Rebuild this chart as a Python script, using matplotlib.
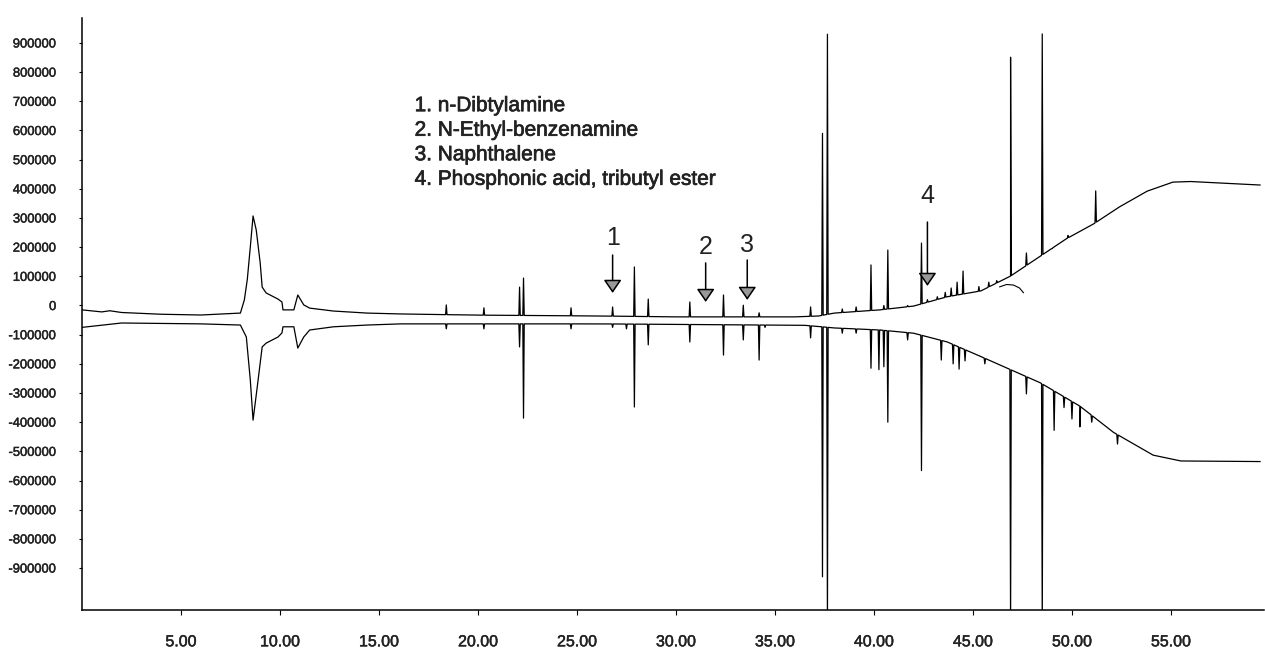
import numpy as np
import matplotlib
matplotlib.use("Agg")
import matplotlib.pyplot as plt
import matplotlib.patheffects as pe

plt.rcParams['font.family'] = ['Liberation Sans', 'DejaVu Sans']

# ---------------- data ----------------
# upper trace: baseline / broad-peak knots (retention time, signal)
upper_knot_t = [0.0, 1.0, 1.4, 2.0, 4.0, 6.0, 8.0, 8.2, 8.35, 8.5, 8.64, 8.8, 9.0, 9.1,
                9.3, 9.9, 10.1, 10.15, 10.7, 10.9, 11.2, 11.5, 12.7, 14.4, 16.1, 20.0,
                26.2, 30.0, 36.0, 37.2, 38.0, 40.3, 42.0, 43.7, 45.4, 46.9, 48.4, 49.7,
                51.1, 52.4, 53.8, 55.1, 56.0, 59.5]
upper_knot_v = [-15000, -22000, -18000, -24000, -30000, -32600, -26000, 19000, 90000,
                200000, 307000, 259000, 146000, 63000, 43000, 22000, 12000, -15000,
                -15000, 36000, 2000, -9000, -19000, -26000, -29000, -33000, -36000,
                -39000, -39000, -36000, -26000, -15000, -2000, 30000, 50000, 101000,
                169000, 228000, 280000, 338000, 392000, 423000, 425000, 413000]

# upper trace: sharp peaks (retention time, apex signal)
upper_peak_t = [18.4, 20.3, 22.1, 22.3, 24.7, 26.8, 27.9, 28.6, 30.7, 32.4, 33.4, 34.2,
                36.8, 37.4, 37.65, 38.4, 39.1, 39.85, 40.5, 40.7, 41.7, 42.4, 42.7, 43.2,
                43.6, 43.9, 44.2, 44.5, 45.3, 45.8, 46.2, 46.9, 47.7, 48.5, 49.0, 49.8,
                51.2, 52.0]
upper_peak_v = [2000, -8000, 63000, 94000, -8000, -5000, 132000, 22000, 12000, 36000,
                1000, -25000, -5000, 590000, 930000, -12000, -5000, 139000, 0, 190000,
                0, 214000, 20000, 30000, 45000, 60000, 80000, 118000, 65000, 80000,
                85000, 851000, 180000, 931000, 195000, 240000, 393000, 320000]

# small hand-drawn curl under the upper trace
curl_t = [46.35, 46.7, 47.05, 47.35, 47.55]
curl_v = [64000, 72000, 70000, 60000, 44000]

# lower (mirrored) trace: baseline / broad-peak knots
lower_knot_t = [0.0, 2.0, 6.0, 8.0, 8.3, 8.5, 8.64, 8.85, 9.1, 9.3, 9.9, 10.1, 10.15,
                10.7, 10.9, 11.2, 11.5, 12.7, 14.4, 16.1, 26.2, 36.5, 37.2, 38.0, 40.3,
                42.0, 43.7, 45.4, 48.4, 50.4, 52.1, 54.1, 55.5, 59.5]
lower_knot_v = [-75000, -60000, -63000, -67000, -108000, -255000, -393000, -280000,
                -142000, -129000, -108000, -94000, -73000, -73000, -146000, -108000,
                -84000, -73000, -67000, -63000, -63000, -68000, -72000, -77000, -84000,
                -95000, -125000, -175000, -265000, -345000, -435000, -513000, -533000,
                -535000]

# lower trace: sharp peaks (retention time, apex signal)
lower_peak_t = [18.4, 20.3, 22.1, 22.3, 24.7, 26.8, 27.5, 27.9, 28.6, 30.7, 32.4, 33.4,
                34.2, 34.5, 36.8, 37.4, 37.65, 38.4, 39.1, 39.85, 40.25, 40.5, 40.7, 41.7,
                42.4, 43.4, 44.0, 44.3, 44.6, 45.6, 46.9, 47.7, 48.5, 49.1, 49.6, 50.0,
                50.4, 51.0, 52.3]
lower_peak_v = [-80000, -80000, -142000, -386000, -80000, -75000, -80000, -348000,
                -135000, -125000, -170000, -118000, -187000, -75000, -111000, -930000,
                -1100000, -95000, -95000, -215000, -220000, -210000, -400000, -118000,
                -566000, -187000, -200000, -218000, -190000, -200000, -1100000, -303000,
                -1100000, -428000, -350000, -389000, -416000, -400000, -475000]

# compound annotations
legend_lines = ["1. n-Dibtylamine", "2. N-Ethyl-benzenamine", "3. Naphthalene",
                "4. Phosphonic acid, tributyl ester"]
marker_labels = ["1", "2", "3", "4"]
marker_t = [26.8, 31.5, 33.6, 42.7]
marker_tail_v = [173000, 146000, 156000, 286000]
marker_tip_v = [43000, 12000, 19000, 67000]
marker_text_v = [231000, 200000, 207000, 375000]

x_ticks = [5, 10, 15, 20, 25, 30, 35, 40, 45, 50, 55]
x_tick_labels = ["5.00", "10.00", "15.00", "20.00", "25.00", "30.00", "35.00",
                 "40.00", "45.00", "50.00", "55.00"]
y_ticks = [900000, 800000, 700000, 600000, 500000, 400000, 300000, 200000, 100000, 0,
           -100000, -200000, -300000, -400000, -500000, -600000, -700000, -800000,
           -900000]
y_tick_labels = ["900000", "800000", "700000", "600000", "500000", "400000", "300000",
                 "200000", "100000", "0", "-100000", "-200000", "-300000", "-400000",
                 "-500000", "-600000", "-700000", "-800000", "-900000"]


def build_trace(knot_t, knot_v, peak_t, peak_v, half_width=0.035):
    kt = np.asarray(knot_t, float)
    kv = np.asarray(knot_v, float)
    pts_t = list(kt)
    pts_v = list(kv)
    for t, v in zip(peak_t, peak_v):
        for dt in (-half_width, half_width):
            pts_t.append(t + dt)
            pts_v.append(np.interp(t + dt, kt, kv))
        pts_t.append(t)
        pts_v.append(v)
    order = np.argsort(pts_t, kind="stable")
    return np.asarray(pts_t)[order], np.asarray(pts_v)[order]


fig = plt.figure(figsize=(12.65, 6.57), dpi=100)
ax = fig.add_axes([82 / 1265, 47 / 657, 1182 / 1265, 592 / 657])

ut, uv = build_trace(upper_knot_t, upper_knot_v, upper_peak_t, upper_peak_v)
lt, lv = build_trace(lower_knot_t, lower_knot_v, lower_peak_t, lower_peak_v)
ax.plot(ut, uv, color="black", lw=0.9)
ax.plot(lt, lv, color="black", lw=0.9)
ax.plot(curl_t, curl_v, color="black", lw=0.8)

ax.set_xlim(0, 59.7)
ax.set_ylim(-1043900, 985600)

for side in ("top", "right"):
    ax.spines[side].set_visible(False)
for side in ("left", "bottom"):
    ax.spines[side].set_linewidth(1.1)

ax.set_xticks(x_ticks)
ax.set_xticklabels(x_tick_labels, fontsize=11.5)
ax.set_yticks(y_ticks)
ax.set_yticklabels(y_tick_labels, fontsize=9.3)
ax.tick_params(axis="x", length=3.5, width=0.8, pad=14)
ax.tick_params(axis="y", length=2.5, width=0.8, pad=16)
light = [pe.withStroke(linewidth=0.35, foreground="#222222")]
for lbl in ax.get_xticklabels() + ax.get_yticklabels():
    lbl.set_color("#222222")
    lbl.set_path_effects(light)

heavy = [pe.withStroke(linewidth=0.5, foreground="#222222")]
ax.text(16.8, 558800, "\n".join(legend_lines), fontsize=15, va="center", ha="left",
        linespacing=1.37, color="#222222", path_effects=heavy)

for lab, t, tail, tip, tv in zip(marker_labels, marker_t, marker_tail_v, marker_tip_v,
                                 marker_text_v):
    ax.annotate("", xy=(t, tip), xytext=(t, tail),
                arrowprops=dict(arrowstyle="-|>,head_length=0.8,head_width=0.55",
                                facecolor="0.6", edgecolor="black", lw=1.1,
                                shrinkA=0, shrinkB=0))
    ax.text(t, tv, lab, fontsize=18, ha="center", va="center", color="#222222")

fig.savefig("out.png", dpi=100)
